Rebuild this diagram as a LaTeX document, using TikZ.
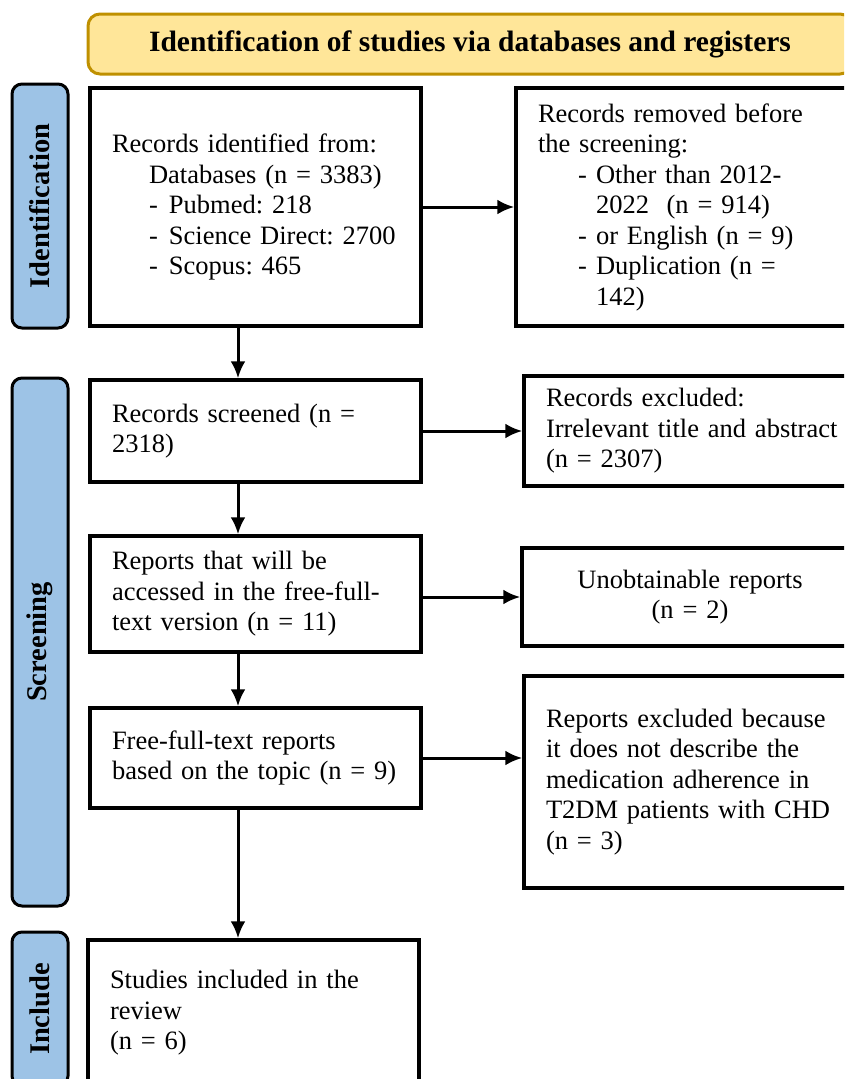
\documentclass[tikz,border=0pt]{standalone}
\usepackage{fontspec}
\setmainfont{Liberation Serif}
\usepackage{tikz}
\usetikzlibrary{arrows,arrows.meta,shapes,positioning}
\definecolor{headfill}{HTML}{FFE699}
\definecolor{headline}{HTML}{BF9000}
\definecolor{sidefill}{HTML}{9DC3E6}
\frenchspacing

\begin{document}
\begin{tikzpicture}[x=1pt,y=-1pt,
    box/.style={draw, line width=3.5pt, rectangle, inner xsep=22pt, inner ysep=0pt,
        font=\fontsize{26.5}{30.5}\selectfont},
    lbox/.style={box, align=left, text width=287pt, minimum height=#1},
    rbox/.style={box, align=left, text width=292pt, minimum height=#1},
    side/.style={draw, line width=3pt, fill=sidefill, rounded corners=10pt, rotate=90,
        minimum height=56pt, minimum width=#1, font=\fontsize{28.5}{30}\selectfont\bfseries},
    head/.style={draw=headline, fill=headfill, line width=3pt, rounded corners=12pt,
        minimum width=764pt, minimum height=60pt, font=\fontsize{29.5}{32}\selectfont\bfseries},
    flow/.style={-{Latex[length=17pt,width=15pt]}, line width=3pt}]
        \useasboundingbox (0,0) rectangle (844,1079);
        \clip (0,0) rectangle (844,1079);

        \node[head] (H) at (470,44) {Identification of studies via databases and registers};

        \node[side=244pt] (Sid) at (40,206) {Identification};
        \node[side=528pt] (Sscr) at (40,642) {Screening};
        \node[side=154pt] (Sinc) at (40,1009) {Include};

        \node[lbox=238pt] (B1) at (255.5,207) {Records identified from:\\
            \hspace*{37pt}Databases (n = 3383)\\
            \hspace*{37pt}\makebox[20pt][l]{-}Pubmed: 218\\
            \hspace*{37pt}\makebox[20pt][l]{-}Science Direct: 2700\\
            \hspace*{37pt}\makebox[20pt][l]{-}Scopus: 465};
        \node[rbox=238pt] (B2) at (684,207) {Records removed before\\
            the screening:\\
            \hspace*{40pt}\makebox[18pt][l]{-}Other than 2012-\\
            \hspace*{58pt}2022~ (n = 914)\\
            \hspace*{40pt}\makebox[18pt][l]{-}or English (n = 9)\\
            \hspace*{40pt}\makebox[18pt][l]{-}Duplication (n =\\
            \hspace*{58pt}142)};

        \node[lbox=102pt] (B3) at (255.5,431) {Records screened (n =\\ 2318)};
        \node[rbox=110pt] (B4) at (692,431) {Records excluded:\\
            Irrelevant title and abstract\\ (n = 2307)};

        \node[lbox=116pt] (B5) at (255.5,594) {Reports that will be\\
            accessed in the free-full-\\ text version (n = 11)};
        \node[rbox=98pt, align=center] (B6) at (690,597) {Unobtainable reports\\ (n = 2)};

        \node[lbox=100pt] (B7) at (255.5,758) {Free-full-text reports\\
            based on the topic (n = 9)};
        \node[rbox=212pt] (B8) at (692,782) {Reports excluded because\\
            it does not describe the\\ medication adherence in\\
            T2DM patients with CHD\\ (n = 3)};

        \node[lbox=146pt] (B9) at (253.5,1013) {Studies included in the\\ review\\ (n = 6)};

        \coordinate (ax) at (238,0);

        \draw[flow] (B1) -- (B2);
        \draw[flow] (B3) -- (B4);
        \draw[flow] (B5.east |- B6.west) -- (B6.west);
        \draw[flow] (B7.east) -- (B7.east -| B8.west);

        \draw[flow] (B1.south -| ax) -- (B3.north -| ax);
        \draw[flow] (B3.south -| ax) -- (B5.north -| ax);
        \draw[flow] (B5.south -| ax) -- (B7.north -| ax);
        \draw[flow] (B7.south -| ax) -- (B9.north -| ax);
\end{tikzpicture}
\end{document}
